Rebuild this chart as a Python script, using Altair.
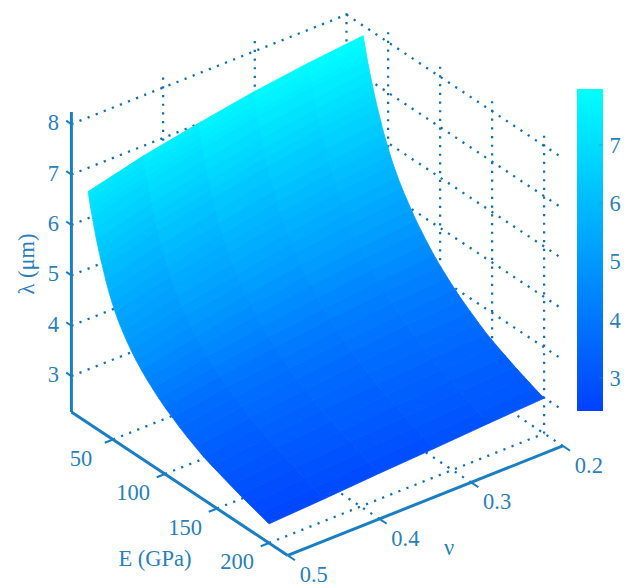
import altair as alt
import numpy as np
import pandas as pd

E_VALUES = [26, 27, 28, 29, 30, 32, 34, 36, 38, 40, 43, 46, 49, 52, 55, 59, 63, 67, 72, 77, 82, 88,
            94, 100, 107, 114, 121, 129, 137, 145, 154, 163, 172, 181, 190, 200]
NU_VALUES = [0.2, 0.26, 0.32, 0.38, 0.44, 0.5]
LAMBDA_VALUES = [
    [7.80, 7.69, 7.55, 7.36, 7.15, 6.88],
    [7.69, 7.58, 7.43, 7.24, 7.03, 6.76],
    [7.58, 7.47, 7.32, 7.13, 6.92, 6.65],
    [7.48, 7.37, 7.22, 7.03, 6.81, 6.54],
    [7.38, 7.27, 7.12, 6.93, 6.71, 6.44],
    [7.19, 7.08, 6.93, 6.73, 6.52, 6.24],
    [7.02, 6.91, 6.75, 6.55, 6.33, 6.05],
    [6.85, 6.74, 6.58, 6.38, 6.16, 5.88],
    [6.69, 6.58, 6.42, 6.22, 6.00, 5.72],
    [6.54, 6.43, 6.28, 6.08, 5.86, 5.58],
    [6.33, 6.22, 6.06, 5.86, 5.64, 5.36],
    [6.13, 6.02, 5.87, 5.67, 5.45, 5.17],
    [5.96, 5.85, 5.70, 5.50, 5.28, 5.00],
    [5.79, 5.68, 5.53, 5.34, 5.12, 4.85],
    [5.64, 5.53, 5.39, 5.20, 4.99, 4.72],
    [5.46, 5.36, 5.21, 5.03, 4.83, 4.57],
    [5.30, 5.20, 5.06, 4.88, 4.68, 4.43],
    [5.16, 5.06, 4.93, 4.75, 4.56, 4.31],
    [4.99, 4.89, 4.76, 4.60, 4.41, 4.17],
    [4.83, 4.74, 4.61, 4.46, 4.28, 4.05],
    [4.69, 4.60, 4.48, 4.33, 4.16, 3.94],
    [4.53, 4.45, 4.33, 4.19, 4.03, 3.82],
    [4.38, 4.30, 4.20, 4.06, 3.90, 3.71],
    [4.25, 4.17, 4.07, 3.94, 3.80, 3.61],
    [4.11, 4.04, 3.94, 3.82, 3.68, 3.51],
    [3.98, 3.91, 3.82, 3.71, 3.58, 3.41],
    [3.86, 3.80, 3.71, 3.60, 3.48, 3.32],
    [3.74, 3.68, 3.60, 3.50, 3.38, 3.23],
    [3.62, 3.56, 3.49, 3.39, 3.28, 3.14],
    [3.51, 3.46, 3.39, 3.30, 3.20, 3.07],
    [3.41, 3.36, 3.30, 3.21, 3.12, 3.00],
    [3.32, 3.27, 3.21, 3.13, 3.04, 2.93],
    [3.23, 3.18, 3.12, 3.05, 2.96, 2.86],
    [3.15, 3.09, 3.03, 2.96, 2.88, 2.80],
    [3.07, 3.01, 2.95, 2.89, 2.81, 2.74],
    [2.99, 2.93, 2.86, 2.80, 2.73, 2.67],
]
# Read-off difference between the colour value and the height, along the two edges.
SHADE_E = [26, 50, 70, 105, 200]
SHADE_NU02 = [0.18, 0.25, 0.28, 0.10, 0.05]
SHADE_NU05 = [0.30, 0.45, 0.55, 0.20, -0.12]

E_TICKS = [50, 100, 150, 200]
NU_TICKS = [0.2, 0.3, 0.4, 0.5]
Z_TICKS = [3, 4, 5, 6, 7, 8]
COLORBAR_TICKS = [3, 4, 5, 6, 7]
E_MIN, E_MAX = 10, 218
NU_MIN, NU_MAX = 0.2, 0.5
Z_MIN, Z_MAX = 2.29, 8.2
C_MIN, C_MAX = 2.43, 7.96
C_LOW_COLOR, C_HIGH_COLOR = "#0040ff", "#00ffff"

AXIS_COLOR = "#1a7fc2"
GRID_COLOR = "#1370b3"
TEXT_COLOR = "#2b7fb8"
FONT = "Liberation Serif"
FONT_SIZE = 22.5

# colour bar placement on the page
BAR_LEFT, BAR_RIGHT, BAR_TOP, BAR_BOTTOM = 577, 603, 89, 411


def px(E, nu):
    return 269 + 1.04 * (E - 200) + 917 * (0.5 - nu)


def py(E, nu, z):
    return 543 + 0.69 * (E - 200) - 365 * (0.5 - nu) - 50.4 * (z - Z_MIN)


def seg(E1, nu1, z1, E2, nu2, z2):
    return {"x": px(E1, nu1), "y": py(E1, nu1, z1), "x2": px(E2, nu2), "y2": py(E2, nu2, z2)}


def shade(E, nu):
    t = (nu - NU_MIN) / (NU_MAX - NU_MIN)
    return (1 - t) * np.interp(E, SHADE_E, SHADE_NU02) + t * np.interp(E, SHADE_E, SHADE_NU05)


def bar_y(v):
    return BAR_BOTTOM - (v - C_MIN) / (C_MAX - C_MIN) * (BAR_BOTTOM - BAR_TOP)


# surface cells
features = []
for i in range(len(E_VALUES) - 1):
    for j in range(len(NU_VALUES) - 1):
        corners = [(i, j), (i, j + 1), (i + 1, j + 1), (i + 1, j)]
        ring = [[px(E_VALUES[a], NU_VALUES[b]) - 8, py(E_VALUES[a], NU_VALUES[b], LAMBDA_VALUES[a][b]) - 8]
                for a, b in corners]
        ring.append(ring[0])
        mean = sum(LAMBDA_VALUES[a][b] + shade(E_VALUES[a], NU_VALUES[b]) for a, b in corners) / 4
        features.append({"type": "Feature", "properties": {"c": float(mean)},
                         "geometry": {"type": "Polygon", "coordinates": [ring]}})

# dotted grid on walls and floor
grid = []
for z in Z_TICKS:
    grid.append(seg(E_MIN, NU_MAX, z, E_MIN, NU_MIN, z))
    grid.append(seg(E_MIN, NU_MIN, z, E_MAX, NU_MIN, z))
for nu in NU_TICKS[:-1]:
    grid.append(seg(E_MIN, nu, Z_MAX, E_MIN, nu, Z_MIN))
    grid.append(seg(E_MAX, nu, Z_MIN, E_MIN, nu, Z_MIN))
for e in E_TICKS:
    grid.append(seg(e, NU_MIN, Z_MAX, e, NU_MIN, Z_MIN))
    grid.append(seg(e, NU_MAX, Z_MIN, e, NU_MIN, Z_MIN))

# axis lines and ticks
axes = [
    seg(E_MIN, NU_MAX, Z_MIN, E_MIN, NU_MAX, Z_MAX + 0.04),
    seg(E_MIN, NU_MAX, Z_MIN, E_MAX, NU_MAX, Z_MIN),
    seg(E_MAX, NU_MAX, Z_MIN, E_MAX, NU_MIN, Z_MIN),
]
ticks = []
for z in Z_TICKS:
    ticks.append(seg(E_MIN, NU_MAX, z, E_MIN - 5, NU_MAX, z))
for e in E_TICKS:
    ticks.append(seg(e, NU_MAX, Z_MIN, e, NU_MAX + 0.009, Z_MIN))
for nu in NU_TICKS:
    ticks.append(seg(E_MAX, nu, Z_MIN, E_MAX + 7, nu, Z_MIN))

labels = []
for z in Z_TICKS:
    labels.append({"x": px(E_MIN, NU_MAX) - 18, "y": py(E_MIN, NU_MAX, z) - 1, "t": str(z), "a": 0})
for e in E_TICKS:
    labels.append({"x": px(e, NU_MAX) - 32, "y": py(e, NU_MAX, Z_MIN) + 19, "t": str(e), "a": 0})
for nu in NU_TICKS:
    labels.append({"x": px(E_MAX, nu) + 26, "y": py(E_MAX, nu, Z_MIN) + 20, "t": str(nu), "a": 0})
labels.append({"x": 155, "y": 559, "t": "E (GPa)", "a": 0})
labels.append({"x": 449, "y": 548, "t": "ν", "a": 0})
labels.append({"x": 27, "y": 264, "t": "λ (μm)", "a": 270})
bar_ticks = []
for v in COLORBAR_TICKS:
    labels.append({"x": BAR_RIGHT + 12, "y": bar_y(v) + 1, "t": str(v), "a": 0})
    bar_ticks.append({"x": BAR_RIGHT - 4, "x2": BAR_RIGHT, "y": bar_y(v), "y2": bar_y(v)})

sx = alt.Scale(domain=[8, 632], range=[0, 624], nice=False, zero=False)
sy = alt.Scale(domain=[8, 586], range=[0, 578], nice=False, zero=False)


def rules(rows, **kw):
    return alt.Chart(pd.DataFrame(rows)).mark_rule(**kw).encode(
        x=alt.X("x:Q", scale=sx, axis=None), x2="x2:Q",
        y=alt.Y("y:Q", scale=sy, axis=None), y2="y2:Q")


c_scale = alt.Scale(domain=[C_MIN, C_MAX], range=[C_LOW_COLOR, C_HIGH_COLOR], interpolate="rgb",
                    nice=False, zero=False, clamp=True)
surface_data = alt.InlineData(values={"type": "FeatureCollection", "features": features},
                              format=alt.DataFormat(property="features", type="json"))

surface = alt.Chart(surface_data).mark_geoshape(strokeWidth=0.8).encode(
    fill=alt.Fill("properties.c:Q", scale=c_scale, legend=None),
    stroke=alt.Stroke("properties.c:Q", scale=c_scale, legend=None),
).project(type="identity", scale=1, translate=[0, 0])

bar = alt.Chart(pd.DataFrame([{"x": BAR_LEFT, "x2": BAR_RIGHT, "y": BAR_TOP, "y2": BAR_BOTTOM}])).mark_rect(
    color=alt.LinearGradient(gradient="linear", x1=0, y1=1, x2=0, y2=0, stops=[
        alt.GradientStop(offset=0, color=C_LOW_COLOR), alt.GradientStop(offset=1, color=C_HIGH_COLOR)])
).encode(
    x=alt.X("x:Q", scale=sx, axis=None), x2="x2:Q",
    y=alt.Y("y:Q", scale=sy, axis=None), y2="y2:Q")

text = alt.Chart(pd.DataFrame(labels)).mark_text(
    font=FONT, fontSize=FONT_SIZE, color=TEXT_COLOR, baseline="middle", align="center"
).encode(
    x=alt.X("x:Q", scale=sx, axis=None),
    y=alt.Y("y:Q", scale=sy, axis=None),
    text="t:N",
    angle=alt.Angle("a:Q", scale=None),
)

chart = alt.layer(
    rules(grid, color=GRID_COLOR, strokeWidth=2.3, strokeDash=[2.2, 6.5]),
    surface,
    bar,
    rules(bar_ticks, color="#1a8ccc", strokeWidth=1, opacity=0.5),
    rules(axes, color=AXIS_COLOR, strokeWidth=3),
    rules(ticks, color=AXIS_COLOR, strokeWidth=2),
    text,
).properties(
    width=624, height=578, padding=0,
    autosize=alt.AutoSizeParams(type="none"),
    background="white",
).configure_view(stroke=None)

chart.save("out.html", embed_options={"renderer": "svg", "actions": False})
